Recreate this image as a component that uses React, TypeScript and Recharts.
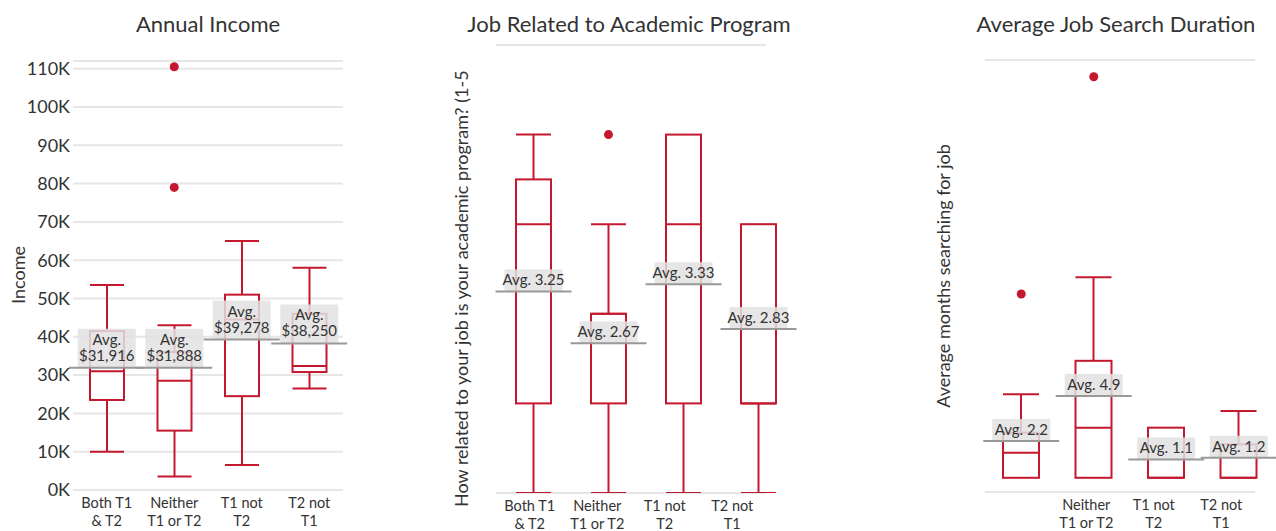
import { Bar, CartesianGrid, ComposedChart, Scatter, XAxis, YAxis } from "recharts";

const RED = "#c4182f";
const GRID = "#e6e6e6";
const INK = "#333";
const FONT = "Lato, 'Open Sans', sans-serif";
const GRID_SPAN = 270;

const categories = ["Both T1 & T2", "Neither T1 or T2", "T1 not T2", "T2 not T1"];
const categoryLines = [
  ["Both T1", "& T2"],
  ["Neither", "T1 or T2"],
  ["T1 not", "T2"],
  ["T2 not", "T1"],
];

// Annual income
const incomeMin = [10000, 3500, 6500, 26500];
const incomeQ1 = [23500, 15500, 24500, 30800];
const incomeMedian = [31000, 28500, 44500, 32400];
const incomeQ3 = [41500, 36000, 51000, 46000];
const incomeMax = [53500, 43000, 65000, 58000];
const incomeAvg = [31916, 31888, 39278, 38250];
const incomeOutliers = [[], [79000, 110500], [], []];
const incomeTicks = [0, 10000, 20000, 30000, 40000, 50000, 60000, 70000, 80000, 90000, 100000, 110000];

// Job related to academic program (1-5)
const relatedMin = [1, 1, 1, 1];
const relatedQ1 = [2, 2, 2, 2];
const relatedMedian = [4, 3, 4, 2];
const relatedQ3 = [4.5, 3, 5, 4];
const relatedMax = [5, 4, 5, 4];
const relatedAvg = [3.25, 2.67, 3.33, 2.83];
const relatedOutliers = [[], [5], [], []];
const relatedTicks = [1, 2, 3, 4, 5, 6];

// Average job search duration (months)
const searchMin = [0, 0, 0, 0];
const searchQ1 = [0, 0, 0, 0];
const searchMedian = [1.5, 3, 0, 0];
const searchQ3 = [2.7, 7, 3, 2];
const searchMax = [5, 12, 3, 4];
const searchAvg = [2.2, 4.9, 1.1, 1.2];
const searchOutliers = [[11], [24], [], []];
const searchTicks = [-0.85, 5, 10, 15, 20, 25];

type Row = {
  cat: string;
  range: [number, number];
  lo: number;
  hi: number;
  q1: number;
  med: number;
  q3: number;
  avg: number;
  o1: number | null;
  o2: number | null;
};

function buildRows(
  min: number[],
  q1: number[],
  med: number[],
  q3: number[],
  max: number[],
  avg: number[],
  outliers: number[][]
): Row[] {
  return categories.map((cat, i) => ({
    cat,
    range: [min[i], max[i]],
    lo: min[i],
    hi: max[i],
    q1: q1[i],
    med: med[i],
    q3: q3[i],
    avg: avg[i],
    o1: outliers[i][0] ?? null,
    o2: outliers[i][1] ?? null,
  }));
}

const incomeRows = buildRows(incomeMin, incomeQ1, incomeMedian, incomeQ3, incomeMax, incomeAvg, incomeOutliers);
const relatedRows = buildRows(relatedMin, relatedQ1, relatedMedian, relatedQ3, relatedMax, relatedAvg, relatedOutliers);
const searchRows = buildRows(searchMin, searchQ1, searchMedian, searchQ3, searchMax, searchAvg, searchOutliers);

// the bar spans whisker low..high, the rest is placed on the same linear scale
function BoxShape(props: any) {
  const { x, y, width, height, payload } = props;
  const p = payload as Row;
  const top = Math.min(y, y + height);
  const bottom = Math.max(y, y + height);
  const py = (v: number) => bottom - ((v - p.lo) / (p.hi - p.lo)) * (bottom - top);
  const cx = x + width / 2;
  const line = { stroke: RED, strokeWidth: 2 };
  return (
    <g>
      {p.hi > p.q3 && (
        <>
          <line x1={cx} x2={cx} y1={py(p.hi)} y2={py(p.q3)} {...line} />
          <line x1={x} x2={x + width} y1={py(p.hi)} y2={py(p.hi)} {...line} />
        </>
      )}
      {p.lo < p.q1 && (
        <>
          <line x1={cx} x2={cx} y1={py(p.q1)} y2={py(p.lo)} {...line} />
          <line x1={x} x2={x + width} y1={py(p.lo)} y2={py(p.lo)} {...line} />
        </>
      )}
      <rect x={x} y={py(p.q3)} width={width} height={py(p.q1) - py(p.q3)} fill="#fff" {...line} />
      <line x1={x} x2={x + width} y1={py(p.med)} y2={py(p.med)} {...line} />
    </g>
  );
}

const makeAvgShape = (fmt: (v: number) => string[]) => (props: any) => {
  const { cx, cy, payload } = props;
  const lines = fmt((payload as Row).avg);
  const two = lines.length > 1;
  const h = two ? 39 : 22;
  return (
    <g>
      <rect x={cx - 29} y={cy - h} width={58} height={h} fill="#e2e2e2" fillOpacity={0.85} />
      {lines.map((t, k) => (
        <text
          key={k}
          x={cx}
          y={two ? cy - 23 + k * 16 : cy - 6}
          textAnchor="middle"
          fontSize={15}
          fill={INK}
        >
          {t}
        </text>
      ))}
      <line x1={cx - 38} x2={cx + 38} y1={cy} y2={cy} stroke="#999" strokeWidth={2} />
    </g>
  );
};

const makeOutlierShape = (key: "o1" | "o2") => (props: any) => {
  const { cx, cy, payload } = props;
  if (payload?.[key] == null || !Number.isFinite(cy)) return <g />;
  return <circle cx={cx} cy={cy} r={4.5} fill={RED} />;
};

const makeLabelTick = (hidden: number[]) => (props: any) => {
  const { x, y, payload } = props;
  const idx = payload.index as number;
  if (hidden.includes(idx)) return <g />;
  const [a, b] = categoryLines[idx];
  return (
    <text x={x} y={y} textAnchor="middle" fontSize={14.5} fill={INK}>
      <tspan x={x} dy={18}>
        {a}
      </tspan>
      <tspan x={x} dy={17.5}>
        {b}
      </tspan>
    </text>
  );
};

const gridLine = (p: any) => (
  <line key={p.key} x1={p.x1} x2={p.x1 + GRID_SPAN} y1={p.y1} y2={p.y2} stroke={GRID} strokeWidth={2} />
);

type BoxChartProps = {
  rows: Row[];
  width: number;
  margin: { top: number; right: number; bottom: number; left: number };
  domain: [number, number];
  ticks: number[];
  yWidth: number;
  yFormat?: (v: number) => string;
  labelAxisHeight: number;
  labelPadRight: number;
  barSize: number;
  avgFormat: (v: number) => string[];
  hiddenLabels?: number[];
};

function BoxChart(p: BoxChartProps) {
  return (
    <ComposedChart width={p.width} height={531} data={p.rows} margin={p.margin}>
      <CartesianGrid vertical={false} horizontal={gridLine} />
      <XAxis dataKey="cat" hide height={0} />
      <XAxis
        xAxisId="lbl"
        dataKey="cat"
        height={p.labelAxisHeight}
        padding={{ left: 0, right: p.labelPadRight }}
        axisLine={false}
        tickLine={false}
        tickSize={0}
        tickMargin={0}
        interval={0}
        tick={makeLabelTick(p.hiddenLabels ?? [])}
      />
      <YAxis
        type="number"
        domain={p.domain}
        ticks={p.ticks}
        width={p.yWidth}
        axisLine={false}
        tickLine={false}
        tickSize={0}
        tickMargin={3}
        tick={p.yFormat ? { fontSize: 18, fill: INK } : false}
        tickFormatter={p.yFormat}
        allowDataOverflow
      />
      <Bar dataKey="range" barSize={p.barSize} shape={BoxShape} isAnimationActive={false} />
      <Scatter dataKey="o1" shape={makeOutlierShape("o1")} isAnimationActive={false} />
      <Scatter dataKey="o2" shape={makeOutlierShape("o2")} isAnimationActive={false} />
      <Scatter dataKey="avg" shape={makeAvgShape(p.avgFormat)} isAnimationActive={false} />
    </ComposedChart>
  );
}

export default function App() {
  return (
    <div
      style={{
        position: "absolute",
        left: 0,
        top: 0,
        width: 1276,
        height: 531,
        overflow: "hidden",
        background: "#fff",
        fontFamily: FONT,
      }}
    >
      <div style={{ position: "absolute", left: 0, top: 0 }}>
        <BoxChart
          rows={incomeRows}
          width={360}
          margin={{ top: 61, right: 17, bottom: 0, left: 0 }}
          domain={[0, 112000]}
          ticks={incomeTicks}
          yWidth={73}
          yFormat={(v) => `${v / 1000}K`}
          labelAxisHeight={41}
          labelPadRight={0}
          barSize={34}
          avgFormat={(v) => ["Avg.", `$${v.toLocaleString("en-US")}`]}
        />
      </div>
      <div style={{ position: "absolute", left: 400, top: 0 }}>
        <BoxChart
          rows={relatedRows}
          width={410}
          margin={{ top: 45, right: 14, bottom: 0, left: 96 }}
          domain={[1, 6]}
          ticks={relatedTicks}
          yWidth={0}
          labelAxisHeight={38}
          labelPadRight={30}
          barSize={35}
          avgFormat={(v) => [`Avg. ${v.toFixed(2)}`]}
        />
      </div>
      <div style={{ position: "absolute", left: 900, top: 0 }}>
        <BoxChart
          rows={searchRows}
          width={376}
          margin={{ top: 60, right: 1, bottom: 0, left: 85 }}
          domain={[-0.85, 25]}
          ticks={searchTicks}
          yWidth={0}
          labelAxisHeight={39}
          labelPadRight={20}
          barSize={36}
          avgFormat={(v) => [`Avg. ${v.toFixed(1)}`]}
          hiddenLabels={[0]}
        />
      </div>
      <svg
        width={1276}
        height={531}
        style={{ position: "absolute", left: 0, top: 0, pointerEvents: "none" }}
      >
        <g fill={INK} fontSize={22}>
          <text x={208} y={32} textAnchor="middle">Annual Income</text>
          <text x={629} y={32} textAnchor="middle">Job Related to Academic Program</text>
          <text x={1116} y={32} textAnchor="middle">Average Job Search Duration</text>
        </g>
        <g fill={INK} fontSize={18}>
          <text transform="translate(25,275) rotate(-90)" textAnchor="middle">Income</text>
          <text transform="translate(468,507) rotate(-90)" textAnchor="start">
            How related to your job is your academic program? (1-5
          </text>
          <text transform="translate(950,276) rotate(-90)" textAnchor="middle">
            Average months searching for job
          </text>
        </g>
      </svg>
    </div>
  );
}
